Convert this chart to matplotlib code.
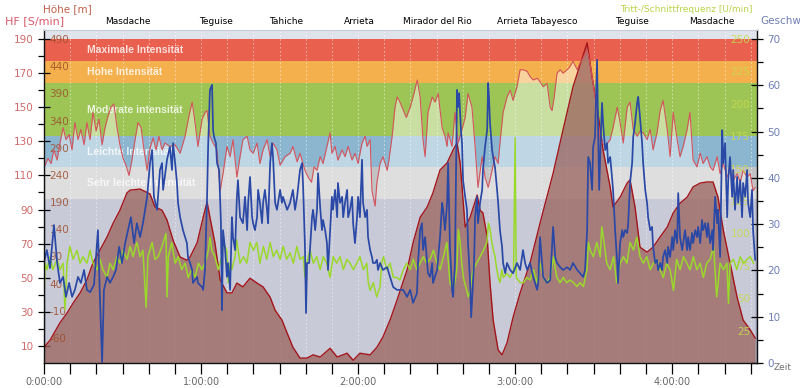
import numpy as np
import matplotlib
matplotlib.use('Agg')
import matplotlib.pyplot as plt
from matplotlib.ticker import MultipleLocator, FixedLocator
from matplotlib.transforms import blended_transform_factory

plt.rcParams['axes.unicode_minus'] = False

# ---------------- data (time in minutes) ----------------
height_t = [0.0, 2.3, 6.1, 8.8, 11.1, 13.8, 16.4, 18.7, 21.4, 24.1, 26.4, 29.0, 31.7, 32.9, 36.7, 40.5, 42.4,
            45.1, 47.0, 49.3, 52.0, 54.6, 55.8, 58.5, 60.8, 62.3, 63.4, 65.3, 67.3, 69.9, 71.8, 73.7, 76.0,
            78.7, 81.4, 83.7, 86.4, 88.3, 90.9, 92.9, 95.1, 97.8, 100.5, 102.8, 105.5, 109.3, 112.0, 115.8,
            118.1, 120.7, 124.6, 127.2, 129.5, 132.2, 134.9, 136.4, 138.7, 141.0, 143.7, 146.4, 148.6, 151.3,
            154.0, 156.3, 157.8, 159.0, 160.9, 162.8, 165.5, 166.6, 167.7, 169.3, 170.4, 171.6, 173.5, 175.0,
            176.9, 179.2, 181.9, 185.7, 189.5, 194.5, 198.3, 202.1, 207.5, 209.4, 211.3, 213.6, 216.3, 217.4,
            220.1, 222.8, 223.9, 225.8, 227.7, 230.4, 232.7, 235.4, 238.1, 240.4, 243.0, 245.7, 248.0, 250.7,
            253.3, 255.6, 257.5, 259.5, 262.1, 264.8, 267.1, 269.8, 271.7]
height_m = [-77, -64, -32, -14, 4, 23, 47, 78, 102, 126, 151, 175, 207, 212, 214, 205, 181,
            175, 157, 120, 89, 83, 89, 115, 162, 190, 162, 115, 47, 23, 23, 41, 34,
            50, 41, 34, 15, -9, -27, -51, -77, -97, -97, -91, -95, -79, -95, -88,
            -101, -88, -91, -77, -58, -27, 10, 32, 65, 115, 162, 181, 207, 249,
            262, 286, 299, 262, 144, 162, 203, 175, 170, 126, 41, -27, -82, -91,
            -69, -22, 23, 78, 151, 243, 323, 402, 483, 420, 365, 286, 218, 181,
            199, 225, 231, 181, 107, 98, 107, 126, 144, 170, 188, 199, 218, 225,
            227, 227, 199, 139, 78, 15, -27, -45, -60]

hr_t = [0.4, 1.5, 2.7, 3.8, 5.0, 6.1, 7.3, 8.4, 9.6, 10.7, 11.8, 13.0, 14.1, 15.3, 16.4, 17.6, 18.7, 19.9,
        21.0, 22.2, 23.3, 24.5, 25.6, 26.7, 27.9, 29.0, 30.2, 31.3, 32.5, 33.6, 34.8, 35.9, 37.1, 38.2,
        39.4, 40.5, 41.7, 42.8, 43.9, 45.1, 46.2, 48.1, 50.1, 52.0, 53.9, 55.4, 56.6, 57.7, 58.8, 60.4,
        61.5, 62.3, 63.4, 64.6, 66.1, 67.3, 68.4, 69.9, 71.1, 72.2, 73.7, 74.9, 76.0, 77.6, 78.7, 79.9,
        81.4, 82.5, 83.7, 85.2, 86.4, 87.5, 89.0, 90.2, 92.1, 94.0, 95.1, 96.7, 97.8, 99.7, 100.9, 102.2,
        103.2, 104.3, 105.5, 106.6, 108.1, 109.3, 110.0, 111.2, 112.3, 113.9, 115.0, 116.2, 117.7, 118.8,
        120.0, 121.5, 122.7, 123.4, 124.6, 125.3, 126.5, 127.2, 128.4, 129.5, 131.1, 131.8, 133.0, 134.1,
        134.9, 135.7, 136.8, 138.4, 139.9, 141.0, 142.6, 143.7, 144.8, 145.6, 146.7, 148.3, 149.4, 150.6,
        152.1, 153.2, 154.0, 154.4, 155.9, 157.0, 158.2, 159.7, 160.9, 162.0, 163.5, 164.7, 165.8, 167.4,
        168.5, 169.7, 171.2, 172.3, 173.5, 174.2, 175.4, 176.9, 178.1, 179.2, 180.7, 181.9, 183.0, 184.6,
        185.7, 186.9, 188.4, 189.5, 190.7, 192.2, 193.4, 194.1, 194.9, 196.0, 197.2, 198.3, 199.9, 201.0,
        202.1, 203.7, 204.8, 206.0, 207.5, 208.6, 209.8, 211.3, 212.5, 214.4, 216.3, 217.4, 219.0, 220.1,
        221.3, 222.8, 223.9, 225.1, 226.6, 227.7, 228.9, 230.4, 231.6, 232.7, 234.2, 235.4, 236.5, 238.1,
        239.2, 240.4, 241.9, 243.0, 244.2, 245.7, 246.8, 248.0, 249.5, 250.7, 251.8, 253.3, 254.5, 255.6,
        257.2, 258.3, 259.5, 261.0, 262.1, 263.3, 264.8, 266.0, 267.1, 268.6, 269.8, 270.9, 271.7]
hr_bpm = [116, 120, 117, 125, 119, 129, 138, 131, 134, 125, 141, 131, 137, 128, 141, 131, 147, 136,
          143, 128, 138, 145, 150, 152, 138, 128, 120, 116, 110, 119, 131, 141, 138, 125,
          113, 126, 132, 125, 133, 125, 129, 127, 128, 123, 133, 145, 153, 141, 127, 143,
          147, 148, 133, 129, 125, 101, 111, 127, 121, 131, 109, 121, 131, 133, 125, 123,
          129, 117, 125, 131, 121, 129, 125, 116, 121, 123, 127, 118, 123, 113, 109, 106,
          115, 113, 121, 117, 127, 135, 123, 127, 119, 125, 121, 127, 119, 123,
          117, 129, 133, 127, 131, 101, 92, 106, 117, 121, 113, 119, 133, 150,
          156, 154, 150, 144, 150, 156, 166, 156, 131, 121, 147, 156, 153, 158,
          138, 133, 127, 135, 127, 147, 129, 137, 144, 158, 150, 127, 103, 121,
          109, 103, 113, 121, 117, 129, 147, 156, 160, 154, 162, 172, 172, 171,
          168, 166, 167, 165, 162, 164, 150, 148, 156, 170, 172, 170, 172, 174,
          177, 172, 176, 179, 184, 176, 164, 148, 131, 127, 131, 138, 150, 141,
          129, 150, 153, 137, 133, 136, 135, 131, 137, 125, 135, 148, 154, 137,
          121, 147, 131, 121, 127, 137, 147, 119, 115, 123, 117, 121, 115, 113,
          121, 111, 117, 109, 113, 107, 111, 106, 113, 109, 111, 101, 103]

speed_t = [0.0, 1.1, 2.3, 3.8, 5.0, 6.1, 7.3, 8.4, 9.6, 10.7, 11.8, 13.0, 14.1, 15.3, 16.4, 17.6, 19.1, 20.6,
           21.4, 22.2, 22.9, 24.1, 25.2, 26.4, 27.5, 28.7, 29.8, 31.0, 32.1, 33.2, 34.4, 35.5, 36.7, 37.8,
           39.4, 40.5, 41.3, 42.0, 43.2, 44.3, 45.1, 45.5, 47.0, 48.1, 48.9, 49.3, 50.1, 50.8, 51.2, 52.0,
           53.1, 54.6, 55.0, 55.8, 56.6, 56.9, 58.5, 58.8, 60.4, 60.8, 61.5, 62.3, 62.7, 63.4, 64.2, 64.6,
           65.0, 65.7, 66.1, 66.9, 67.6, 68.0, 68.4, 69.2, 69.9, 70.3, 71.1, 71.8, 72.2, 73.0, 73.7, 74.1,
           74.9, 76.0, 76.8, 77.6, 78.0, 78.7, 79.5, 79.9, 80.6, 81.4, 81.8, 82.5, 83.3, 83.7, 84.4, 85.2,
           85.6, 86.4, 87.1, 87.5, 88.3, 89.0, 90.2, 90.9, 91.3, 92.9, 94.0, 95.1, 95.9, 96.7, 97.1, 97.8,
           98.6, 99.0, 99.7, 100.1, 100.5, 101.3, 102.4, 102.8, 103.6, 104.3, 104.7, 105.5, 106.2, 106.6,
           107.4, 108.1, 108.5, 109.3, 110.0, 110.4, 111.2, 112.0, 112.3, 113.1, 113.9, 114.3, 115.0, 115.8,
           116.2, 116.9, 117.7, 118.1, 118.8, 119.6, 120.0, 120.7, 121.5, 121.9, 122.7, 123.4, 123.8, 124.6,
           125.3, 125.7, 126.5, 127.2, 127.6, 128.4, 129.5, 131.1, 132.2, 133.4, 134.9, 136.0, 137.2, 138.7,
           139.9, 141.0, 142.5, 142.9, 143.7, 144.4, 144.8, 145.6, 146.4, 146.7, 147.5, 148.3, 148.6, 150.2,
           150.6, 151.3, 152.1, 152.5, 153.2, 154.0, 154.4, 155.1, 155.9, 156.3, 157.0, 157.8, 158.2, 158.6,
           159.3, 159.7, 160.1, 160.9, 161.6, 162.0, 162.8, 163.2, 163.5, 164.3, 164.7, 165.4, 165.8, 166.6,
           167.4, 167.7, 168.5, 169.3, 169.7, 170.0, 170.4, 171.2, 171.6, 172.3, 173.1, 173.5, 174.2, 175.0,
           175.4, 176.2, 176.9, 178.1, 179.2, 180.7, 181.9, 183.0, 183.8, 184.6, 185.7, 186.9, 188.4, 188.8,
           189.5, 190.3, 190.7, 192.2, 193.4, 194.5, 195.3, 196.0, 197.2, 198.3, 199.9, 201.0, 202.1, 203.7,
           204.8, 206.0, 206.7, 207.5, 207.9, 208.6, 209.4, 209.8, 210.5, 210.9, 211.3, 211.7, 212.1, 212.8,
           213.2, 213.6, 214.4, 215.1, 215.5, 216.3, 217.0, 217.4, 218.2, 219.0, 219.3, 219.7, 220.1, 220.9,
           221.3, 222.0, 222.8, 223.2, 223.9, 224.7, 225.1, 225.8, 226.6, 227.0, 227.7, 228.5, 228.9, 229.7,
           230.4, 230.8, 231.6, 232.3, 232.7, 233.5, 234.2, 234.6, 235.4, 236.1, 236.5, 237.3, 238.1, 238.4,
           239.2, 240.0, 240.4, 241.1, 241.9, 242.3, 243.0, 243.8, 244.2, 244.9, 245.7, 246.1, 246.8, 247.6,
           248.0, 248.8, 249.5, 249.9, 250.7, 251.4, 251.8, 252.6, 253.3, 253.7, 254.5, 255.3, 255.6, 256.4,
           257.2, 257.5, 258.3, 259.1, 259.5, 260.2, 261.0, 261.4, 262.1, 262.9, 263.3, 264.0, 264.8, 265.2,
           266.0, 266.7, 267.1, 267.9, 268.6, 269.0, 269.8, 270.5, 270.9, 271.7]
speed_kmh = [21.8, 24.4, 20.5, 29.8, 21.8, 17.3, 18.6, 14.3, 17.3, 14.3, 15.8, 18.6, 17.3, 20.1, 15.8, 15.3, 16.9, 28.7,
             13.6, 0.2, 15.8, 18.6, 17.3, 18.6, 20.1, 25.1, 21.6, 25.9, 28.7, 31.5, 25.9, 30.2, 27.2, 30.2,
             35.9, 43.2, 46.0, 35.9, 33.1, 41.7, 43.2, 37.4, 43.9, 46.7, 41.7, 47.5, 43.2, 38.9, 34.6, 31.5,
             28.7, 25.9, 22.9, 21.6, 20.1, 17.3, 18.6, 17.3, 16.4, 15.8, 20.1, 35.9, 46.7, 59.0, 60.1, 50.3,
             48.8, 47.5, 43.2, 41.7, 30.2, 11.4, 28.7, 24.4, 18.6, 21.6, 15.8, 31.5, 27.2, 24.4, 35.9, 39.5,
             31.5, 30.2, 35.9, 28.7, 34.6, 40.2, 31.5, 30.2, 28.7, 31.5, 37.4, 34.6, 30.2, 34.6, 37.4, 33.1,
             30.2, 43.2, 47.5, 44.5, 34.6, 33.1, 37.4, 34.6, 35.9, 33.1, 34.6, 37.4, 33.1, 35.9, 38.0, 41.7,
             43.2, 38.0, 25.1, 10.8, 21.6, 21.6, 31.5, 33.1, 28.7, 33.1, 41.0, 33.7, 28.7, 30.9,
             28.7, 25.9, 20.1, 28.7, 35.9, 33.1, 37.4, 31.5, 38.9, 34.6, 35.9, 31.5, 34.6, 37.4,
             31.5, 33.1, 35.9, 30.2, 25.9, 31.5, 35.9, 31.5, 43.9, 34.6, 31.5, 33.1, 27.2, 24.4,
             22.9, 21.6, 21.6, 22.3, 20.1, 21.6, 20.1, 20.7, 18.6, 16.4, 15.8, 15.8, 15.8, 14.3,
             15.8, 13.0, 15.1, 21.6, 28.7, 30.2, 24.4, 27.2, 21.6, 19.4, 18.6, 21.6, 17.3, 20.1,
             22.9, 27.2, 34.6, 33.1, 28.7, 34.6, 43.2, 25.1, 15.8, 14.3, 21.6, 59.0, 55.3, 58.3,
             50.3, 47.5, 39.5, 35.9, 33.1, 25.9, 17.3, 9.9, 13.0, 21.6, 31.5, 35.9, 30.2, 34.6,
             37.4, 41.7, 46.7, 50.3, 60.5, 57.5, 51.8, 46.0, 44.5, 42.3, 37.4, 34.6, 28.7, 25.1,
             21.6, 19.4, 21.6, 20.1, 19.4, 21.6, 20.1, 24.4, 21.6, 20.1, 21.6, 18.6, 15.8, 17.3,
             27.2, 21.6, 18.6, 17.3, 17.9, 29.4, 22.9, 21.6, 20.7, 20.1, 20.7, 20.1, 21.6, 20.1,
             19.4, 18.6, 20.1, 28.7, 44.5, 43.2, 37.4, 46.7, 48.8, 57.5, 65.5, 50.3, 37.4, 50.3,
             56.2, 51.8, 46.0, 47.5, 43.2, 44.5, 40.2, 37.4, 28.7, 21.6, 17.3, 21.6, 25.9, 28.7,
             27.2, 28.7, 28.1, 30.2, 38.9, 43.2, 48.8, 51.8, 56.2, 57.5, 53.1, 47.5, 43.2, 37.4,
             34.6, 31.5, 28.7, 29.4, 25.1, 21.6, 22.3, 20.1, 21.6, 20.1, 22.9, 24.4, 21.6, 25.1,
             22.9, 27.2, 24.4, 28.7, 25.9, 36.7, 27.2, 24.4, 25.9, 28.7, 24.4, 27.2, 24.4, 28.1,
             25.9, 28.7, 27.2, 29.4, 25.9, 30.9, 28.7, 30.2, 27.2, 30.2, 25.9, 28.7, 24.4, 35.9,
             30.2, 33.1, 22.9, 50.3, 43.2, 47.5, 31.5, 39.5, 44.5, 35.9, 41.7, 33.1, 40.2, 34.6,
             39.5, 31.5, 38.9, 35.9, 41.7, 34.6, 31.5, 37.4, 28.7, 22.3]

cad_t = [0.0, 0.4, 1.1, 2.3, 3.4, 5.0, 6.1, 7.3, 8.0, 8.8, 9.9, 11.1, 12.6, 13.8, 14.9, 16.4, 17.6, 18.7,
         20.3, 21.4, 22.5, 24.1, 25.2, 26.4, 27.9, 29.0, 30.2, 31.7, 32.9, 34.0, 35.5, 36.7, 37.8, 39.0,
         39.7, 41.3, 42.4, 43.6, 45.1, 46.6, 47.0, 47.5, 48.8, 50.1, 51.3, 52.6, 53.9, 55.1, 56.4, 57.7,
         59.0, 60.3, 61.5, 62.8, 63.4, 64.1, 65.3, 66.6, 67.9, 68.5, 69.8, 70.4, 71.1, 71.7, 73.0, 73.6,
         74.9, 76.2, 77.5, 78.7, 80.0, 81.3, 82.5, 83.8, 85.1, 86.4, 87.6, 88.9, 90.2, 91.4, 92.7, 94.0,
         95.3, 96.6, 97.8, 99.1, 99.7, 100.4, 101.6, 102.9, 104.2, 105.5, 106.7, 108.0, 109.3, 110.5,
         111.8, 113.1, 114.4, 115.7, 116.9, 118.2, 119.5, 120.7, 122.0, 123.3, 123.9, 124.6, 125.8, 127.1,
         128.4, 129.0, 129.7, 131.0, 132.2, 133.5, 134.8, 136.0, 137.3, 138.6, 139.9, 141.1, 142.4, 143.7,
         144.9, 146.2, 147.5, 148.8, 150.1, 151.3, 152.6, 153.9, 154.5, 155.1, 156.4, 157.7, 158.3, 159.0,
         159.6, 160.2, 161.5, 162.1, 162.8, 163.4, 164.0, 165.3, 166.6, 167.9, 169.2, 169.8, 170.4, 171.1,
         171.7, 172.3, 173.0, 173.6, 174.2, 174.9, 175.5, 176.8, 178.1, 179.4, 180.0, 180.4, 181.9, 183.2,
         184.4, 185.7, 187.0, 188.3, 189.5, 190.8, 192.1, 193.4, 194.6, 195.9, 197.2, 198.4, 199.7, 201.0,
         202.3, 203.6, 204.8, 206.1, 207.4, 208.0, 208.6, 209.9, 211.2, 212.5, 213.1, 213.7, 215.0, 216.3,
         217.6, 218.8, 220.1, 221.4, 222.7, 223.9, 225.2, 226.5, 227.7, 229.0, 230.3, 231.6, 232.8, 234.1,
         235.4, 236.6, 237.9, 239.2, 240.5, 241.7, 243.0, 244.3, 245.6, 246.8, 248.1, 249.4, 250.7, 251.9,
         253.2, 254.5, 255.8, 257.0, 258.3, 259.6, 260.9, 261.5, 262.1, 263.4, 264.7, 266.0, 267.3, 268.6,
         269.8, 271.1]
cad_rpm = [46, 77, 72, 82, 72, 80, 72, 77, 41, 77, 90, 80, 87, 77, 82, 77, 87, 77,
           72, 80, 72, 66, 77, 72, 82, 77, 87, 80, 90, 82, 93, 82, 87, 43,
           82, 93, 80, 82, 90, 100, 51, 82, 93, 77, 82, 72, 77, 66, 72, 66,
           77, 72, 77, 87, 97, 87, 82, 72, 82, 93, 87, 62, 77, 72, 82, 95,
           77, 82, 77, 93, 87, 93, 77, 90, 80, 93, 82, 87, 80, 90, 80, 85,
           77, 90, 80, 82, 66, 77, 87, 77, 82, 72, 82, 77, 66, 82,
           77, 82, 72, 80, 77, 72, 77, 82, 72, 77, 62, 56, 62, 51,
           59, 77, 82, 72, 77, 66, 66, 64, 72, 77, 72, 80, 72, 77,
           82, 77, 80, 87, 77, 72, 82, 93, 77, 62, 56, 72, 103, 93,
           77, 66, 56, 51, 56, 66, 72, 77, 82, 87, 93, 108, 103, 93,
           87, 82, 72, 66, 62, 72, 66, 69, 66, 72, 174, 66, 62, 62,
           66, 64, 72, 62, 77, 66, 62, 66, 82, 66, 62, 66, 62, 64,
           62, 59, 62, 59, 72, 93, 87, 82, 93, 82, 105, 97, 77, 72,
           82, 62, 77, 82, 77, 93, 87, 97, 82, 77, 82, 72, 77, 80,
           72, 66, 77, 72, 56, 80, 72, 82, 77, 72, 82, 72, 77, 66,
           77, 80, 90, 51, 77, 72, 77, 46, 77, 80, 72, 82, 77, 80,
           82, 77]

zone_edges = [0, 96, 115, 133, 164, 177, 190]
zone_names = ['', 'Sehr leichte Intensität', 'Leichte Intensität', 'Moderate intensität',
              'Hohe Intensität', 'Maximale Intensität']
place_t = [32.1, 65.7, 92.5, 120.4, 150.4, 188.3, 224.7, 255.3]
place_names = ['Masdache', 'Teguise', 'Tahiche', 'Arrieta', 'Mirador del Rio',
               'Arrieta Tabayesco', 'Teguise', 'Masdache']
time_ticks = [0, 60, 120, 180, 240]
time_labels = ['0:00:00', '1:00:00', '2:00:00', '3:00:00', '4:00:00']

# ---------------- figure ----------------
fig = plt.figure(figsize=(8, 3.88), dpi=100)
fig.patch.set_facecolor('white')
ax = fig.add_axes([44 / 800, 25 / 388, 713 / 800, 333 / 388])
ax.set_facecolor('#dfe3eb')
ax.set_xlim(0, 272.4)
ax.set_ylim(0, 195.3)

zone_colors = ['#9b9fb8', '#c3c3c5', '#8cb6d0', '#9dc556', '#f5b04e', '#e9604f']
for lo, hi, c in zip(zone_edges[:-1], zone_edges[1:], zone_colors):
    ax.axhspan(lo, hi, color=c, lw=0, zorder=0.2)

for lo, hi, name in zip(zone_edges[:-1], zone_edges[1:], zone_names):
    if name:
        ax.text(16.4, (lo + hi) / 2, name, color='white', alpha=0.8, fontsize=7.5,
                fontweight='bold', family='Liberation Sans', va='center', ha='left', zorder=0.3)

ax.fill_between(hr_t, 0, hr_bpm, color='white', alpha=0.45, lw=0, zorder=0.5)

ax.set_xticks(time_ticks)
ax.set_xticklabels(time_labels)
ax.xaxis.set_minor_locator(MultipleLocator(10))
ax.set_axisbelow('line')
ax.grid(which='both', axis='x', color='white', alpha=0.55, lw=0.7, ls=(0, (1.5, 2.5)))
ax.tick_params(axis='x', which='both', direction='out', length=8, width=0.9,
               labelsize=7, labelcolor='#666666', pad=2)
ax.set_yticks(np.arange(10, 191, 20))
ax.yaxis.set_minor_locator(FixedLocator(np.arange(20, 181, 20)))
ax.tick_params(axis='y', which='major', direction='inout', length=9, width=0.9,
               labelsize=7.5, labelcolor='#d06a6a', pad=3)
ax.tick_params(axis='y', which='minor', direction='out', length=4.5, width=0.9)
for s in ax.spines.values():
    s.set_visible(False)

# height
ax_h = ax.twinx()
ax_h.set_ylim(-106, 506.6)
ax_h.fill_between(height_t, -106, height_m, color='#9b625d', alpha=0.75, lw=0)
ax_h.plot(height_t, height_m, color='#a3151a', lw=1.0)
ax_h.set_yticks(np.arange(-60, 491, 50))
ax_h.yaxis.tick_left()
ax_h.tick_params(axis='y', length=0, pad=-4, labelsize=7.5, labelcolor=(0.62, 0.30, 0.17, 0.85))
plt.setp(ax_h.get_yticklabels(), ha='left')
for s in ax_h.spines.values():
    s.set_visible(False)

# heart-rate line
ax_hr = ax.twinx()
ax_hr.set_ylim(0, 195.3)
ax_hr.plot(hr_t, hr_bpm, color='#d4545c', lw=0.8)
ax_hr.set_yticks([])
for s in ax_hr.spines.values():
    s.set_visible(False)

# cadence
ax_c = ax.twinx()
ax_c.set_ylim(0, 256.9)
ax_c.plot(cad_t, cad_rpm, color='#9bd82c', lw=1.1)
ax_c.set_yticks(np.arange(25, 251, 25))
ax_c.tick_params(axis='y', length=0, pad=-5, labelsize=7.5, labelcolor=(0.78, 0.85, 0.30, 0.9))
plt.setp(ax_c.get_yticklabels(), ha='right')
for s in ax_c.spines.values():
    s.set_visible(False)

# speed
ax_s = ax.twinx()
ax_s.set_ylim(0, 71.94)
ax_s.plot(speed_t, speed_kmh, color='#2a48a6', lw=1.25)
ax_s.set_yticks(np.arange(0, 71, 10))
ax_s.yaxis.set_minor_locator(FixedLocator(np.arange(5, 70, 10)))
ax_s.tick_params(axis='y', which='major', direction='inout', length=9, width=0.9,
                 labelsize=7.5, labelcolor='#6f7fb5', pad=3)
ax_s.tick_params(axis='y', which='minor', direction='out', length=4.5, width=0.9)
for side in ['left', 'bottom', 'right']:
    ax_s.spines[side].set_color('#111111')
    ax_s.spines[side].set_linewidth(1.0)
ax_s.spines['top'].set_color('#c6cad2')
ax_s.spines['top'].set_linewidth(0.8)

# place names on top
tr = blended_transform_factory(ax.transData, ax.transAxes)
for t, name in zip(place_t, place_names):
    ax.text(t, 1.027, name, transform=tr, ha='center', va='center', fontsize=6.5, color='black')

# axis titles
fig.text(43 / 800, 1 - 9.5 / 388, 'Höhe [m]', color='#c0604a', fontsize=7.5, ha='left', va='center')
fig.text(5 / 800, 1 - 21 / 388, 'HF [S/min]', color='#d85a6a', fontsize=8, ha='left', va='center')
fig.text(753 / 800, 1 - 10 / 388, 'Tritt-/Schnittfrequenz [U/min]', color='#b8d44a', fontsize=6.5,
         ha='right', va='center')
fig.text(760 / 800, 1 - 21 / 388, 'Geschw', color='#6f7fb5', fontsize=7.5, ha='left', va='center')
fig.text(774 / 800, 1 - 367 / 388, 'Zeit', color='#707070', fontsize=6.5, ha='left', va='center')

fig.savefig('out.png', dpi=100)
